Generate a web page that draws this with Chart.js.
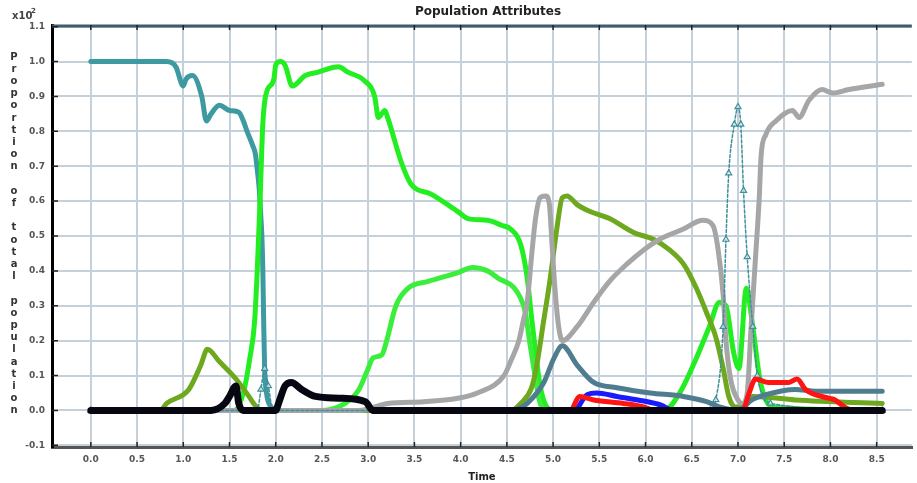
<!DOCTYPE html>
<html lang="en">
  <head>
    <meta charset="UTF-8" />
    <title>Population Attributes</title>
    <script src="https://cdn.jsdelivr.net/npm/chart.js"></script>
    <style>
      body {
        margin: 0;
        padding: 0;
        background: #fff;
      }
      canvas {
        display: block;
      }
    </style>
  </head>
  <body>
    <canvas id="popChart" width="917" height="483"></canvas>

    <script>
      const chartTitle = "Population Attributes";
      const yTitle = "Proportion of total population";
      const xTitle = "Time";

      const xTicks = [0, 0.5, 1, 1.5, 2, 2.5, 3, 3.5, 4, 4.5, 5, 5.5, 6, 6.5, 7, 7.5, 8, 8.5];
      const yTicks = [-0.1, 0, 0.1, 0.2, 0.3, 0.4, 0.5, 0.6, 0.7, 0.8, 0.9, 1.0, 1.1];

      // [time, proportion]
      const blackSeries = [[0, 0], [1.3, 0], [1.45, 0.02], [1.5, 0.04], [1.57, 0.07], [1.6, 0.02], [1.65, 0],
        [2.0, 0], [2.03, 0.02], [2.1, 0.07], [2.17, 0.08], [2.28, 0.06], [2.43, 0.04], [2.68, 0.035],
        [2.97, 0.025], [3.05, 0], [8.56, 0]];

      const tealSeries = [[0, 1.0], [0.4, 1.0], [0.82, 1.0], [0.92, 0.985], [1.0, 0.93], [1.03, 0.95],
        [1.1, 0.96], [1.2, 0.9], [1.25, 0.83], [1.3, 0.85], [1.39, 0.875], [1.5, 0.86], [1.6, 0.855],
        [1.65, 0.83], [1.69, 0.8], [1.75, 0.76], [1.78, 0.735], [1.8, 0.69], [1.82, 0.64], [1.84, 0.55],
        [1.85, 0.5], [1.86, 0.41], [1.87, 0.25], [1.88, 0.12], [1.9, 0.05], [1.95, 0.01], [2.0, 0], [8.56, 0]];

      const triangleSeries = [[0, 0], [1.8, 0], [1.84, 0.06], [1.88, 0.12], [1.92, 0.07], [1.97, 0],
        [6.7, 0], [6.76, 0.03], [6.84, 0.24], [6.87, 0.49], [6.9, 0.68], [6.96, 0.82], [7.0, 0.87],
        [7.03, 0.82], [7.06, 0.63], [7.1, 0.44], [7.16, 0.24], [7.21, 0.1], [7.27, 0.04], [7.35, 0.02], [8.56, 0]];

      const greenSeries = [[0, 0], [1.55, 0], [1.65, 0.05], [1.72, 0.15], [1.77, 0.25], [1.8, 0.4],
        [1.83, 0.6], [1.86, 0.82], [1.88, 0.885], [1.91, 0.92], [1.98, 0.95], [2.0, 0.99], [2.05, 1.0],
        [2.1, 0.99], [2.18, 0.93], [2.32, 0.96], [2.46, 0.97], [2.68, 0.985], [2.78, 0.97], [2.96, 0.945],
        [3.07, 0.9], [3.11, 0.84], [3.18, 0.86], [3.21, 0.84], [3.36, 0.71], [3.46, 0.65], [3.68, 0.62],
        [3.86, 0.59], [3.97, 0.57], [4.08, 0.55], [4.29, 0.545], [4.45, 0.53], [4.54, 0.52], [4.65, 0.475],
        [4.72, 0.38], [4.77, 0.26], [4.81, 0.17], [4.86, 0.07], [4.93, 0.01], [5.0, 0], [6.2, 0],
        [6.37, 0.05], [6.55, 0.15], [6.69, 0.24], [6.8, 0.31], [6.87, 0.3], [6.95, 0.17], [7.01, 0.12],
        [7.09, 0.35], [7.16, 0.24], [7.23, 0.1], [7.3, 0.03], [7.4, 0.01], [8.56, 0]];

      const green2Series = [[0, 0], [2.5, 0], [2.75, 0.02], [2.9, 0.06], [3.0, 0.12], [3.05, 0.15],
        [3.15, 0.16], [3.2, 0.2], [3.3, 0.3], [3.43, 0.35], [3.65, 0.37], [3.97, 0.395], [4.13, 0.41],
        [4.29, 0.4], [4.4, 0.38], [4.61, 0.34], [4.7, 0.28], [4.75, 0.19], [4.81, 0.09], [4.85, 0.03],
        [4.9, 0], [8.56, 0]];

      const oliveSeries = [[0, 0], [0.75, 0], [0.82, 0.02], [1.06, 0.06], [1.19, 0.13], [1.26, 0.175],
        [1.39, 0.14], [1.57, 0.09], [1.71, 0.04], [1.76, 0.02], [1.85, 0], [4.55, 0], [4.65, 0.02],
        [4.76, 0.06], [4.81, 0.11], [4.9, 0.26], [4.97, 0.38], [5.04, 0.52], [5.1, 0.61], [5.15, 0.615],
        [5.26, 0.59], [5.4, 0.57], [5.61, 0.55], [5.87, 0.51], [6.09, 0.49], [6.26, 0.46], [6.41, 0.42],
        [6.55, 0.35], [6.66, 0.28], [6.76, 0.21], [6.84, 0.12], [6.9, 0.04], [6.97, 0.01], [7.05, 0.01],
        [7.09, 0.03], [7.16, 0.04], [7.62, 0.03], [8.56, 0.02]];

      const graySeries = [[0, 0], [2.9, 0], [3.21, 0.02], [3.6, 0.025], [3.97, 0.035], [4.18, 0.05],
        [4.47, 0.1], [4.54, 0.14], [4.63, 0.2], [4.68, 0.26], [4.72, 0.31], [4.77, 0.45], [4.81, 0.55],
        [4.86, 0.61], [4.92, 0.615], [4.96, 0.59], [4.99, 0.47], [5.02, 0.35], [5.06, 0.24], [5.1, 0.2],
        [5.26, 0.24], [5.44, 0.31], [5.61, 0.37], [5.8, 0.42], [5.98, 0.46], [6.15, 0.49], [6.41, 0.52],
        [6.62, 0.545], [6.73, 0.53], [6.78, 0.47], [6.84, 0.33], [6.87, 0.2], [6.92, 0.09], [7.0, 0.03],
        [7.05, 0.02], [7.1, 0.05], [7.14, 0.23], [7.19, 0.44], [7.23, 0.61], [7.25, 0.73], [7.3, 0.79],
        [7.41, 0.83], [7.59, 0.86], [7.66, 0.84], [7.77, 0.89], [7.91, 0.92], [8.02, 0.91], [8.2, 0.92],
        [8.56, 0.935]];

      const slateSeries = [[4.6, 0], [4.72, 0.02], [4.9, 0.08], [5.01, 0.15], [5.1, 0.185],
        [5.26, 0.13], [5.44, 0.08], [5.69, 0.065], [6.05, 0.05], [6.41, 0.04], [6.66, 0.025], [6.8, 0.01],
        [7.0, 0], [7.15, 0.03], [7.3, 0.045], [7.62, 0.06], [7.84, 0.055], [8.56, 0.055]];

      const redSeries = [[5.2, 0], [5.29, 0.04], [5.44, 0.03], [5.76, 0.02], [5.98, 0.01],
        [6.1, 0], [7.05, 0], [7.12, 0.05], [7.19, 0.09], [7.33, 0.08], [7.55, 0.08], [7.64, 0.09],
        [7.73, 0.06], [7.98, 0.035], [8.05, 0.03], [8.15, 0.01], [8.25, 0], [8.56, 0]];

      const blueSeries = [[5.25, 0], [5.37, 0.045], [5.47, 0.05], [5.69, 0.04], [5.98, 0.027],
        [6.17, 0.015], [6.3, 0], [8.56, 0]];

      function pts(pairs) {
        return pairs.map(([x, y]) => ({ x: x, y: y }));
      }

      function lineSet(pairs, color, width) {
        return {
          data: pts(pairs),
          borderColor: color,
          backgroundColor: color,
          borderWidth: width,
          pointRadius: 0,
          cubicInterpolationMode: "monotone",
          borderJoinStyle: "round",
          borderCapStyle: "round",
        };
      }

      // inner tick marks, top frame, title and stacked y label
      const framePlugin = {
        id: "frame",
        afterDraw(chart) {
          const { ctx, chartArea: a, scales } = chart;
          ctx.save();
          ctx.strokeStyle = "#3d5c6c";
          ctx.lineWidth = 3;
          ctx.beginPath();
          ctx.moveTo(a.left, a.top + 1);
          ctx.lineTo(a.right, a.top + 1);
          ctx.stroke();

          ctx.strokeStyle = "#222";
          ctx.lineWidth = 1.5;
          ctx.beginPath();
          xTicks.forEach((v) => {
            const px = scales.x.getPixelForValue(v);
            ctx.moveTo(px, a.top);
            ctx.lineTo(px, a.top + 5);
            ctx.moveTo(px, a.bottom);
            ctx.lineTo(px, a.bottom - 5);
          });
          yTicks.forEach((v) => {
            const py = scales.y.getPixelForValue(v);
            ctx.moveTo(a.left, py);
            ctx.lineTo(a.left + 6, py);
          });
          ctx.stroke();

          ctx.fillStyle = "#222";
          ctx.textAlign = "center";
          ctx.textBaseline = "middle";
          ctx.font = 'bold 12px "DejaVu Sans"';
          ctx.fillText(chartTitle, 488, 12);

          ctx.fillStyle = "#444";
          ctx.font = 'bold 10px "DejaVu Sans"';
          ctx.textAlign = "left";
          ctx.fillText("x10", 12, 16);
          ctx.font = 'bold 7px "DejaVu Sans"';
          ctx.fillText("2", 31, 11);

          ctx.fillStyle = "#333";
          ctx.font = 'bold 10px "DejaVu Sans"';
          ctx.textAlign = "center";
          [...yTitle].forEach((ch, i) => {
            if (ch !== " ") ctx.fillText(ch, 14, 57 + i * 12.2);
          });
          ctx.restore();
        },
      };

      const triangles = lineSet(triangleSeries, "#3f8f9c", 1.5);
      triangles.borderDash = [3, 2];
      triangles.pointStyle = "triangle";
      triangles.pointRadius = 3.5;
      triangles.pointBackgroundColor = "rgba(255,255,255,0.6)";
      triangles.pointBorderWidth = 1.2;

      const ctx = document.getElementById("popChart").getContext("2d");
      const popChart = new Chart(ctx, {
        type: "line",
        data: {
          datasets: [
            lineSet(blackSeries, "#070712", 7),
            lineSet(redSeries, "#ff1414", 5),
            lineSet(blueSeries, "#1a1aff", 5),
            lineSet(slateSeries, "#4f7d8f", 5),
            triangles,
            lineSet(graySeries, "#a6a6a6", 5),
            lineSet(oliveSeries, "#6ea81e", 5),
            lineSet(green2Series, "#3cee3c", 5),
            lineSet(greenSeries, "#22ee22", 5),
            lineSet(tealSeries, "#3c9aa0", 5),
          ],
        },
        options: {
          responsive: false,
          animation: false,
          devicePixelRatio: 1,
          layout: { padding: { top: 25, right: 0, left: 0, bottom: 0 } },
          plugins: {
            legend: { display: false },
            tooltip: { enabled: false },
          },
          scales: {
            x: {
              type: "linear",
              min: -0.42,
              max: 8.88,
              afterBuildTicks(scale) {
                scale.ticks = xTicks.map((v) => ({ value: v }));
              },
              afterFit(scale) {
                scale.height = 36;
              },
              grid: { color: "#c5d1da", lineWidth: 2, drawTicks: false },
              border: { color: "#555", width: 3 },
              ticks: {
                padding: 7,
                color: "#555",
                font: { family: "DejaVu Sans", size: 9, weight: "bold" },
                callback: (v) => v.toFixed(1),
              },
              title: {
                display: true,
                text: xTitle,
                color: "#222",
                padding: 0,
                font: { family: "DejaVu Sans", size: 10, weight: "bold" },
              },
            },
            y: {
              type: "linear",
              min: -0.105,
              max: 1.105,
              afterBuildTicks(scale) {
                scale.ticks = yTicks.map((v) => ({ value: v }));
              },
              afterFit(scale) {
                scale.width = 52;
              },
              grid: { color: "#c5d1da", lineWidth: 2, drawTicks: false },
              border: { color: "#000", width: 3 },
              ticks: {
                padding: 7,
                color: "#555",
                font: { family: "DejaVu Sans", size: 9, weight: "bold" },
                callback: (v) => v.toFixed(1),
              },
            },
          },
        },
        plugins: [framePlugin],
      });
    </script>
  </body>
</html>
